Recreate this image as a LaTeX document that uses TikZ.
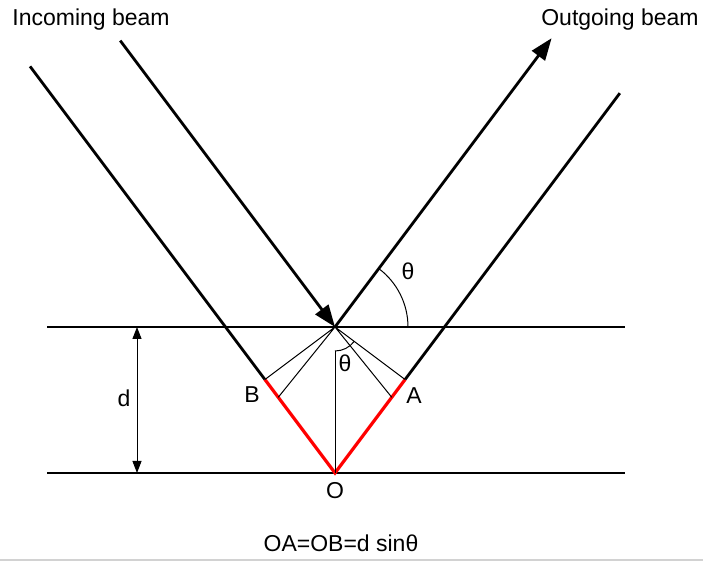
\documentclass[tikz,border=0pt]{standalone}
\usepackage{fontspec}
\setmainfont{Liberation Sans}
\usetikzlibrary{arrows.meta,calc}
\begin{document}
\begin{tikzpicture}[
    x=0.5pt, y=0.5pt,
    beam/.style={line width=1.4pt},
    plane/.style={line width=0.75pt},
    thinline/.style={line width=0.5pt},
    pathdiff/.style={red, line width=1.6pt},
    lab/.style={font=\fontsize{11.5}{13}\selectfont, inner sep=1pt},
    bigtip/.style={-{Triangle[length=11pt,width=8pt]}},
    smalltip/.style={{Triangle[length=6pt,width=4.5pt]}-{Triangle[length=6pt,width=4.5pt]}},
]
  \def\th{53.13}
  \useasboundingbox (0,0) rectangle (703,561);

  % ---------------- lattice planes ----------------
  \coordinate (P) at (335,234);
  \coordinate (O) at (335,88);
  \coordinate (topL) at (47,234);
  \coordinate (topR) at (625,234);
  \coordinate (botL) at (47,88);
  \coordinate (botR) at (625,88);
  \draw[plane] (topL) -- (topR);
  \draw[plane] (botL) -- (botR);

  % ---------------- beam points ----------------
  \coordinate (B) at ($(O)+(180-\th:116.8)$);
  \coordinate (A) at ($(O)+(\th:116.8)$);
  \coordinate (inB) at ($(B)+(180-\th:391.5)$);
  \coordinate (inP) at ($(P)+(180-\th:358)$);
  \coordinate (outP) at ($(P)+(\th:361)$);
  \coordinate (outA) at ($(A)+(\th:358)$);

  % ---------------- beams ----------------
  \draw[beam] (inB) -- (B);
  \draw[beam, bigtip] (inP) -- (P);
  \draw[beam, bigtip] (P) -- (outP);
  \draw[beam] (A) -- (outA);
  \draw[pathdiff] (B) -- (O) -- (A);

  % thin construction lines from P
  \draw[thinline] (P) -- (B) (P) -- ($(B)!0.19!(O)$);
  \draw[thinline] (P) -- (A) (P) -- ($(A)!0.19!(O)$);

  % normal and angles
  \coordinate (nTop) at ($(P)+(0,-24)$);
  \draw[thinline] (O) -- (nTop);
  \draw[thinline] (nTop) arc[start angle=-90, end angle=\th-90, radius=24];
  \draw[thinline] ($(P)+(73,0)$) arc[start angle=0, end angle=\th, radius=73];

  % spacing d
  \coordinate (dTop) at (137,234);
  \coordinate (dBot) at (137,88);
  \draw[thinline, smalltip] (dBot) -- (dTop);

  % ---------------- labels ----------------
  \node[lab, anchor=west] (inLab) at (10,541) {Incoming beam};
  \node[lab, anchor=east] (outLab) at (701,541) {Outgoing beam};
  \node[lab] (dLab) at (124,163) {d};
  \node[lab] (BLab) at (252,166) {B};
  \node[lab] (ALab) at (414,165) {A};
  \node[lab] (OLab) at (335,70) {O};
  \node[lab] (thTop) at (408,290) {θ};
  \node[lab] (thLow) at (345,198) {θ};
  \node[lab] (eqLab) at (341,18) {OA=OB=d sinθ};

  % bottom rule
  \draw[gray!35, line width=0.8pt] (0,1) -- (703,1);
\end{tikzpicture}
\end{document}
